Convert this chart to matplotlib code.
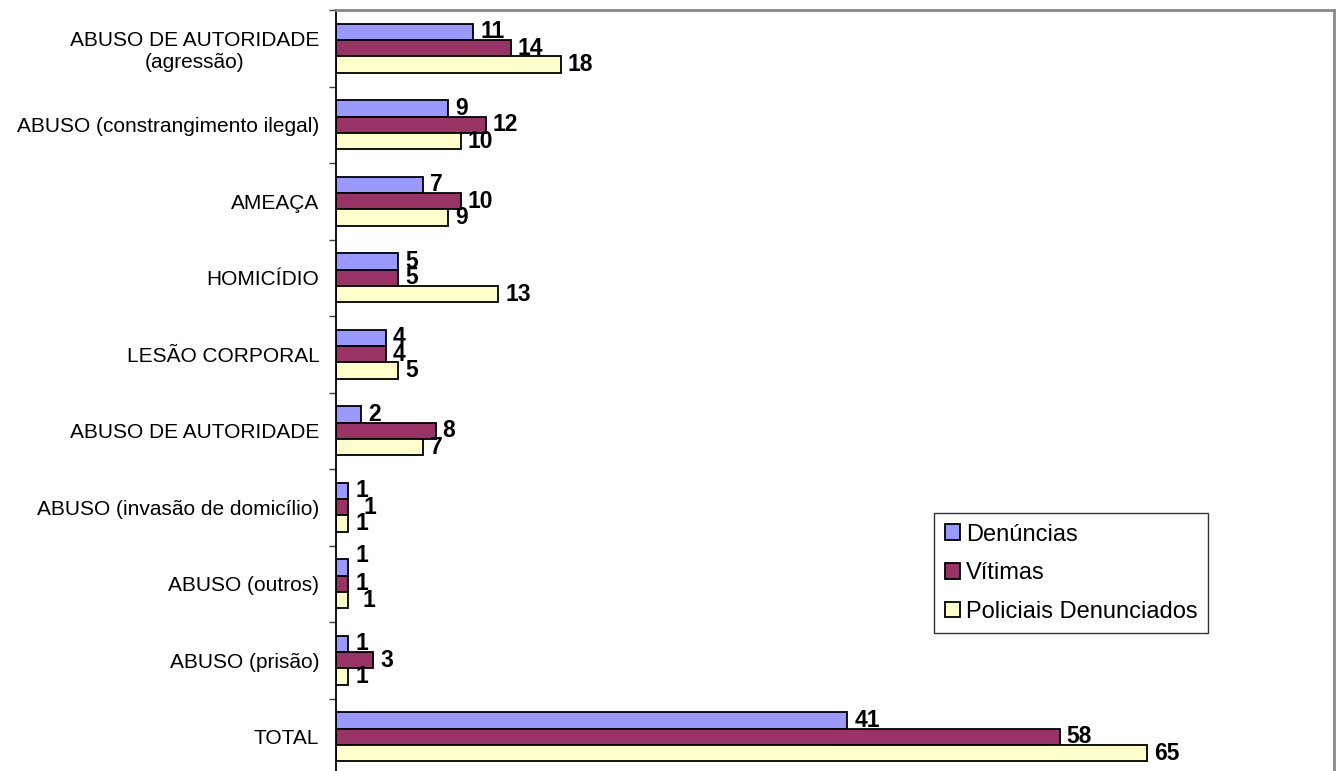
import matplotlib
matplotlib.use("Agg")
import matplotlib.pyplot as plt
import numpy as np
from matplotlib.ticker import FixedLocator

plt.rcParams['font.family'] = ['Liberation Sans', 'DejaVu Sans']

categories = ["ABUSO DE AUTORIDADE\n(agressão)", "ABUSO (constrangimento ilegal)", "AMEAÇA",
              "HOMICÍDIO", "LESÃO CORPORAL", "ABUSO DE AUTORIDADE",
              "ABUSO (invasão de domicílio)", "ABUSO (outros)", "ABUSO (prisão)", "TOTAL"]
denuncias = [11, 9, 7, 5, 4, 2, 1, 1, 1, 41]
vitimas = [14, 12, 10, 5, 4, 8, 1, 1, 3, 58]
policiais = [18, 10, 9, 13, 5, 7, 1, 1, 1, 65]
series_names = ["Denúncias", "Vítimas", "Policiais Denunciados"]
colors = ["#9999FF", "#993366", "#FFFFCC"]

# label nudges (pixels) where the original chart shifted overlapping labels
nudges = {(6, 1): (8, 0), (7, 0): (0, 12), (7, 2): (7, 0)}

fig = plt.figure(figsize=(13.41, 7.71), dpi=100)
ax = fig.add_axes([336/1341, -4/771, 998/1341, 765/771])

y = np.arange(len(categories))
h = 0.215
for i, (vals, name, c) in enumerate(zip([denuncias, vitimas, policiais], series_names, colors)):
    bars = ax.barh(y + (i - 1) * h, vals, height=h, color=c, edgecolor='black', linewidth=1.3, label=name)
    for j, (b, v) in enumerate(zip(bars, vals)):
        dx, dy = nudges.get((j, i), (0, 0))
        ax.annotate(str(v), (b.get_width(), b.get_y() + b.get_height() / 2),
                    xytext=(5 + dx * 0.72, dy * 0.72), textcoords='offset points', ha='left', va='center',
                    fontsize=16.5, fontweight='bold')

ax.set_xlim(0, 80)
ax.set_ylim(len(categories) - 0.5, -0.5)
ax.set_yticks(y)
ax.set_yticklabels(categories, fontsize=15, multialignment='center')
ax.tick_params(axis='y', which='major', length=0, pad=12)
ax.yaxis.set_minor_locator(FixedLocator(np.arange(-0.5, len(categories) + 0.5, 1)))
ax.tick_params(axis='y', which='minor', length=5, width=1, color='#404040')
ax.set_xticks([])
ax.spines['left'].set_color('black')
ax.spines['left'].set_linewidth(1.3)
ax.spines['top'].set_color('#888888')
ax.spines['top'].set_linewidth(2)
ax.spines['right'].set_color('#888888')
ax.spines['right'].set_linewidth(2)
ax.spines['bottom'].set_visible(False)

leg = fig.legend(loc='upper left', bbox_to_anchor=(934/1341, 1 - 513/771), fontsize=17,
                 frameon=True, fancybox=False, edgecolor='black', handlelength=0.65,
                 handleheight=0.65, handletextpad=0.25, labelspacing=0.7, borderpad=0.45,
                 borderaxespad=0)
leg.get_frame().set_linewidth(1)

fig.savefig("out.png", dpi=100)
